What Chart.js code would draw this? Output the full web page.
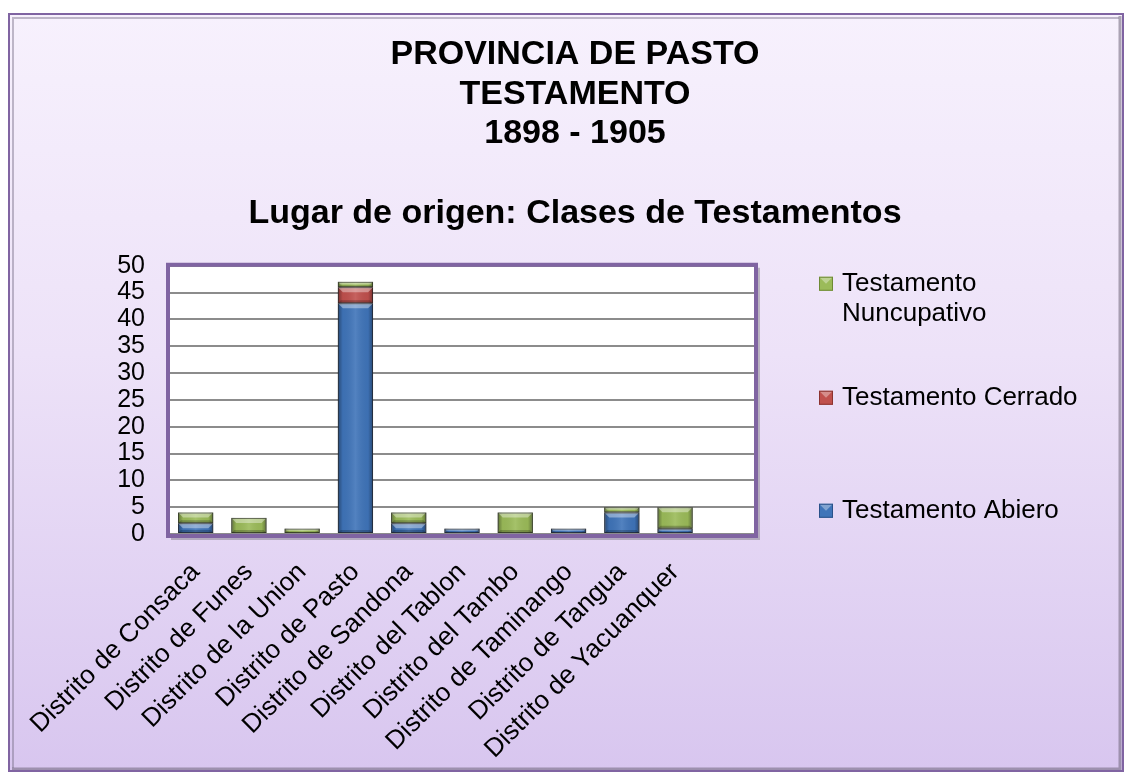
<!DOCTYPE html>
<html><head><meta charset="utf-8">
<script src="https://cdn.jsdelivr.net/npm/chart.js@4.4.1/dist/chart.umd.min.js"></script>
<style>html,body{margin:0;padding:0;background:#fff;overflow:hidden}#wrap{width:1132px;height:776px;position:relative}canvas{display:block}</style>
</head><body><div id="wrap"><canvas id="c" width="1132" height="776"></canvas></div>
<script>
// ---- data ----
const categories = ['Distrito de Consaca','Distrito de Funes','Distrito de la Union','Distrito de Pasto','Distrito de Sandona','Distrito del Tablon','Distrito del Tambo','Distrito de Taminango','Distrito de Tangua','Distrito de Yacuanquer'];
const abierto     = [2, 0, 0, 43, 2, 1, 0, 1, 4, 1];
const cerrado     = [0, 0, 0,  3, 0, 0, 0, 0, 0, 0];
const nuncupativo = [2, 3, 1,  1, 2, 0, 4, 0, 1, 4];
const seriesNames = ['Testamento Abiero', 'Testamento Cerrado', 'Testamento Nuncupativo'];
const titleLines = ['PROVINCIA DE PASTO', 'TESTAMENTO', '1898 - 1905'];
const subtitleText = 'Lugar de origen: Clases de Testamentos';
const yMin = 0, yMax = 50, yStep = 5;

const FONT = "'Liberation Sans', Arial, Helvetica, sans-serif";
const colors = {
  fill:   ['#3f74b9', '#c0504d', '#9bbb59'],
  border: ['#2a5189', '#8c3330', '#6e8a35']
};

// background + plot frame
const bgPlugin = {
  id: 'bg',
  beforeDraw(chart) {
    const ctx = chart.ctx, W = chart.width, H = chart.height, a = chart.chartArea;
    ctx.save();
    ctx.fillStyle = '#ffffff';
    ctx.fillRect(0, 0, W, H);
    const g = ctx.createLinearGradient(0, 13, 0, 771);
    g.addColorStop(0, '#f7f1fd');
    g.addColorStop(0.45, '#ede2f8');
    g.addColorStop(1, '#d8c6ef');
    ctx.fillStyle = g;
    ctx.fillRect(9, 14, W - 18, 757);
    ctx.strokeStyle = 'rgba(120,110,135,0.45)';
    ctx.lineWidth = 2;
    ctx.beginPath();
    ctx.moveTo(13, 768); ctx.lineTo(13, 18); ctx.lineTo(W - 13, 18);
    ctx.stroke();
    ctx.strokeStyle = 'rgba(110,100,120,0.55)';
    ctx.lineWidth = 3;
    ctx.beginPath();
    ctx.moveTo(12, 769); ctx.lineTo(W - 12, 769); ctx.lineTo(W - 12, 16);
    ctx.stroke();
    ctx.strokeStyle = '#8064a2';
    ctx.lineWidth = 2;
    ctx.strokeRect(9, 14, W - 18, 757);
    ctx.fillStyle = 'rgba(90,90,90,0.35)';
    ctx.fillRect(a.left + 2, a.top + 2, a.right - a.left + 3, a.bottom - a.top + 4);
    ctx.fillStyle = '#ffffff';
    ctx.fillRect(a.left, a.top, a.right - a.left, a.bottom - a.top);
    ctx.restore();
  },
  beforeDatasetsDraw(chart) {
    const ctx = chart.ctx, a = chart.chartArea;
    ctx.save();
    ctx.strokeStyle = '#8064a2';
    ctx.lineWidth = 4;
    ctx.strokeRect(a.left - 1, a.top - 1, a.right - a.left + 2, a.bottom - a.top + 3);
    ctx.restore();
  }
};

// bevelled bar look, drawn on top of the library's bar elements
const bevelPlugin = {
  id: 'bevel',
  afterDatasetsDraw(chart) {
    const ctx = chart.ctx;
    ctx.save();
    chart.data.datasets.forEach((ds, di) => {
      const meta = chart.getDatasetMeta(di);
      if (meta.hidden) return;
      meta.data.forEach(el => {
        const p = el.getProps(['x', 'y', 'base', 'width'], true);
        const left = p.x - p.width / 2, w = p.width;
        const top = Math.min(p.y, p.base), bot = Math.max(p.y, p.base);
        const h = bot - top;
        if (!(h > 0.5)) return;
        const g = ctx.createLinearGradient(left, 0, left + w, 0);
        g.addColorStop(0, 'rgba(0,0,0,0.38)');
        g.addColorStop(0.14, 'rgba(0,0,0,0.04)');
        g.addColorStop(0.5, 'rgba(255,255,255,0.10)');
        g.addColorStop(0.86, 'rgba(0,0,0,0.04)');
        g.addColorStop(1, 'rgba(0,0,0,0.38)');
        ctx.fillStyle = g;
        ctx.fillRect(left, top, w, h);
        const b = Math.min(5, h / 2);
        ctx.fillStyle = 'rgba(255,255,255,0.38)';
        ctx.beginPath();
        ctx.moveTo(left, top); ctx.lineTo(left + w, top);
        ctx.lineTo(left + w - b, top + b); ctx.lineTo(left + b, top + b);
        ctx.closePath(); ctx.fill();
        ctx.fillStyle = 'rgba(0,0,0,0.22)';
        ctx.beginPath();
        ctx.moveTo(left, bot); ctx.lineTo(left + w, bot);
        ctx.lineTo(left + w - b * 0.6, bot - b * 0.6); ctx.lineTo(left + b * 0.6, bot - b * 0.6);
        ctx.closePath(); ctx.fill();
        ctx.strokeStyle = 'rgba(40,40,40,0.55)';
        ctx.lineWidth = 1;
        ctx.strokeRect(left + 0.5, top + 0.5, w - 1, h - 1);
      });
    });
    ctx.restore();
  }
};

// legend on the right (reverse order, wrapped text)
const legendPlugin = {
  id: 'sideLegend',
  afterDraw(chart) {
    const ctx = chart.ctx, a = chart.chartArea;
    const boxX = a.right + 64, textX = a.right + 87, maxW = 272, lineH = 30;
    const offsets = [18, 132, 245];
    ctx.save();
    ctx.font = '26px ' + FONT;
    ctx.textBaseline = 'middle';
    ctx.textAlign = 'left';
    const order = chart.data.datasets.map((d, i) => i).reverse();
    order.forEach((di, k) => {
      const ds = chart.data.datasets[di];
      const words = ds.label.split(' ');
      const lines = [];
      let cur = '';
      words.forEach(wd => {
        const t = cur ? cur + ' ' + wd : wd;
        if (ctx.measureText(t).width > maxW && cur) { lines.push(cur); cur = wd; } else cur = t;
      });
      lines.push(cur);
      const cy = a.top + offsets[k];
      const s = 14, bx = boxX, by = cy - s / 2;
      ctx.fillStyle = ds.backgroundColor;
      ctx.fillRect(bx, by, s, s);
      ctx.fillStyle = 'rgba(255,255,255,0.35)';
      ctx.beginPath(); ctx.moveTo(bx, by); ctx.lineTo(bx + s, by); ctx.lineTo(bx + s / 2, by + s / 2); ctx.closePath(); ctx.fill();
      ctx.strokeStyle = ds.borderColor; ctx.lineWidth = 1;
      ctx.strokeRect(bx + 0.5, by + 0.5, s - 1, s - 1);
      ctx.fillStyle = '#000';
      lines.forEach((ln, li) => ctx.fillText(ln, textX, cy + li * lineH));
    });
    ctx.restore();
  }
};

const seriesData = [abierto, cerrado, nuncupativo];
const chart = new Chart(document.getElementById('c'), {
  type: 'bar',
  data: {
    labels: [...categories, ''],
    datasets: seriesNames.map((name, i) => ({
      label: name,
      data: seriesData[i],
      backgroundColor: colors.fill[i],
      borderColor: colors.border[i],
      borderWidth: 1,
      borderSkipped: false,
      yAxisID: 'y',
      categoryPercentage: 1,
      barPercentage: 0.66
    }))
  },
  options: {
    responsive: false,
    devicePixelRatio: 1,
    animation: false,
    layout: { padding: { left: 18, right: 0, top: 0, bottom: 0 } },
    plugins: {
      legend: { display: false },
      tooltip: { enabled: false },
      title: {
        display: true, text: titleLines, color: '#000',
        font: { family: FONT, size: 34, weight: 'bold', lineHeight: 1.16 },
        padding: { top: 35, bottom: 0 }
      },
      subtitle: {
        display: true, text: subtitleText, color: '#000',
        font: { family: FONT, size: 34, weight: 'bold', lineHeight: 1.16 },
        padding: { top: 41, bottom: 32 }
      }
    },
    scales: {
      x: {
        stacked: true,
        grid: { display: false, drawTicks: false },
        border: { display: false },
        ticks: {
          color: '#000', font: { family: FONT, size: 26 },
          maxRotation: 45, minRotation: 45, autoSkip: false,
          padding: 23, labelOffset: 0
        },
        afterFit(s) { s.height = 242; }
      },
      y: {
        stacked: true, min: yMin, max: yMax,
        grid: { color: '#8c8c8c', lineWidth: 2, drawTicks: false },
        border: { display: false },
        ticks: { stepSize: yStep, autoSkip: false, color: '#000', font: { family: FONT, size: 25 }, padding: 24 },
        afterFit(s) { s.width = 151; }
      },
      yRight: {
        type: 'linear', position: 'right', display: true,
        grid: { display: false, drawTicks: false },
        border: { display: false },
        ticks: { display: false },
        afterFit(s) { s.width = 377; }
      }
    }
  },
  plugins: [bgPlugin, bevelPlugin, legendPlugin]
});
</script></body></html>
